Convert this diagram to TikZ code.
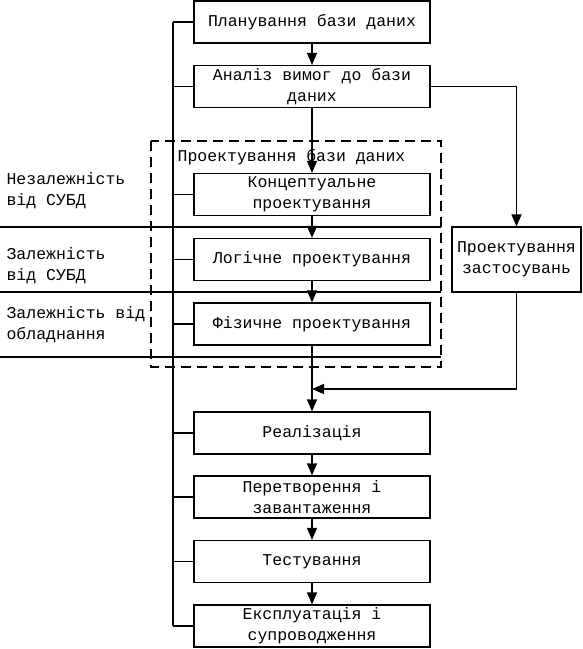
\documentclass[tikz,border=0pt]{standalone}
\usepackage{fontspec}
\setmainfont{Liberation Mono}
\usetikzlibrary{arrows.meta}

\tikzset{
    stage/.style={draw, line width=1.2pt, minimum width=236pt, minimum height=42pt, inner sep=0pt, align=center},
    level/.style={anchor=west, align=left, inner sep=0pt},
    flow/.style={-{Triangle[length=12pt,width=10pt]}, line width=1.2pt},
}

\begin{document}
\begin{tikzpicture}[x=1pt, y=-1pt, line width=1.2pt, font=\fontsize{16.5}{21}\selectfont]
    \useasboundingbox (0,0) rectangle (582,649);
    \draw[dash pattern=on 10pt off 6pt] (151,141) rectangle (441,367);
    \node[anchor=west, inner sep=0pt] (design) at (177,157) {Проектування бази даних};
    \draw (0,227) -- (441,227);
    \draw (0,292) -- (441,292);
    \draw (0,357) -- (441,357);
    \node[level] (indep) at (6,191) {Незалежність\\від СУБД};
    \node[level] (dbms) at (6,266) {Залежність\\від СУБД};
    \node[level] (hw) at (6,325) {Залежність від\\обладнання};
    \node[stage] (plan) at (312,22) {Планування бази даних};
    \node[stage] (req) at (312,86.5) {Аналіз вимог до бази\\даних};
    \node[stage] (concept) at (312,194.5) {Концептуальне\\проектування};
    \node[stage] (logic) at (312,259.5) {Логічне проектування};
    \node[stage] (phys) at (312,324) {Фізичне проектування};
    \node[stage] (impl) at (312,433) {Реалізація};
    \node[stage] (load) at (312,497) {Перетворення і\\завантаження};
    \node[stage] (test) at (312,561.5) {Тестування};
    \node[stage] (oper) at (312,626) {Експлуатація і\\супроводження};
    \node[stage, minimum width=129pt, minimum height=65pt] (app) at (516.5,259.5) {Проектування\\застосувань};
    \coordinate (bustop) at (173,22);
    \coordinate (busend) at (173,626);
    \coordinate (merge) at (312,389);
    \draw (bustop) -- (busend);
    \foreach \s in {plan,req,concept,logic,phys,impl,load,test,oper}
        \draw (\s.west) -- (\s.west -| bustop);
    \draw[flow] (plan) -- (req);
    \draw[flow] (req) -- (concept);
    \draw[flow] (concept) -- (logic);
    \draw[flow] (logic) -- (phys);
    \draw[flow] (phys) -- (impl);
    \draw[flow] (impl) -- (load);
    \draw[flow] (load) -- (test);
    \draw[flow] (test) -- (oper);
    \draw[flow] (req.east) -| (app.north);
    \draw[flow] (app.south) |- (merge);
\end{tikzpicture}
\end{document}
